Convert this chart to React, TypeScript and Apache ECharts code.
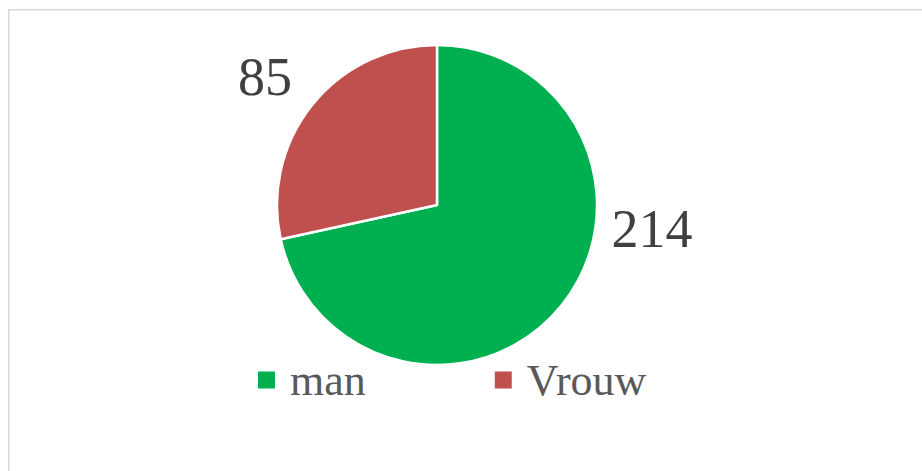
import React, { useEffect, useRef } from "react";
import * as echarts from "echarts";

const categories = ["man", "Vrouw"];
const values = [214, 85];
const colors = ["#00B050", "#C0504D"];

export default function App() {
  const ref = useRef<HTMLDivElement>(null);
  useEffect(() => {
    if (!ref.current) return;
    const chart = echarts.init(ref.current, null, { renderer: "svg" });
    const labelPos: Record<number, [number, number]> = {
      0: [652, 229],
      1: [265, 77],
    };
    chart.setOption({
      animation: false,
      backgroundColor: "#ffffff",
      graphic: [
        {
          type: "rect",
          shape: { x: 8.75, y: 9.75, width: 1000, height: 1000 },
          style: { fill: "none", stroke: "#D9D9D9", lineWidth: 1.5 },
          silent: true,
        },
      ],
      legend: {
        left: 258,
        top: 358,
        padding: 0,
        itemWidth: 17,
        itemHeight: 17,
        itemGap: 129,
        icon: "rect",
        data: categories,
        itemStyle: { borderWidth: 0 },
        textStyle: {
          fontFamily: "Liberation Serif",
          fontSize: 44,
          lineHeight: 44,
          color: "#595959",
          padding: [0, 0, 0, 10],
        },
      },
      series: [
        {
          type: "pie",
          center: [437, 205],
          radius: 160,
          startAngle: 90,
          clockwise: true,
          data: categories.map((c, i) => ({
            name: c,
            value: values[i],
            itemStyle: { color: colors[i] },
          })),
          itemStyle: { borderColor: "#ffffff", borderWidth: 2.5 },
          label: {
            show: true,
            position: "outside",
            formatter: "{c}",
            fontFamily: "Liberation Serif",
            fontSize: 54,
            color: "#404040",
          },
          labelLine: { show: false },
          labelLayout: (params: any) => {
            const p = labelPos[params.dataIndex];
            return { x: p[0], y: p[1], align: "center", verticalAlign: "middle" };
          },
          emphasis: { disabled: true },
        },
      ],
    });
    return () => chart.dispose();
  }, []);
  return (
    <div
      ref={ref}
      style={{ position: "fixed", left: 0, top: 0, width: 922, height: 471 }}
    />
  );
}
